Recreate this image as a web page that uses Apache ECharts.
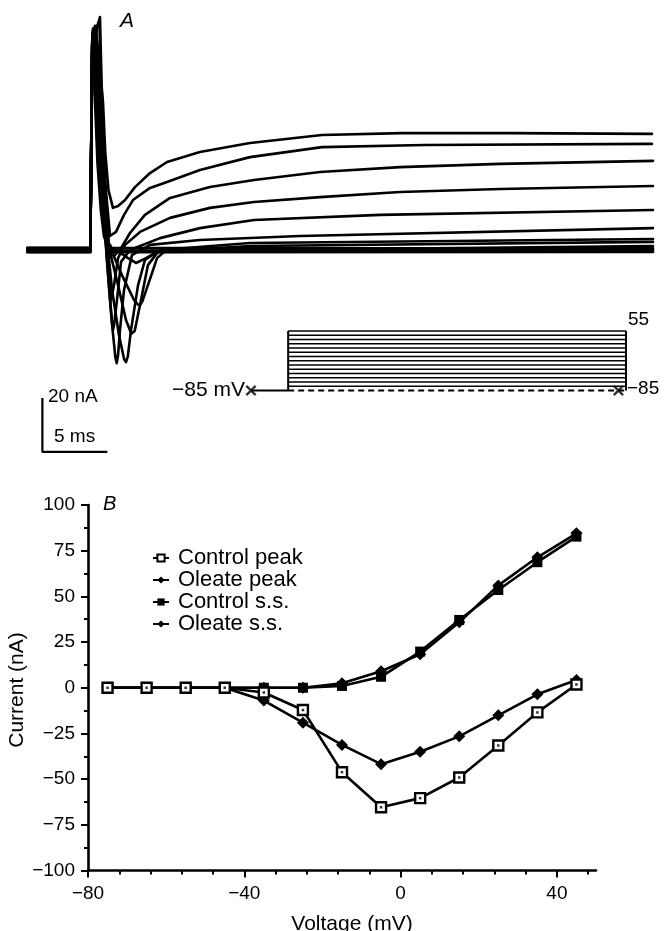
<!DOCTYPE html>
<html>
<head>
<meta charset="utf-8">
<script src="https://cdn.jsdelivr.net/npm/echarts@6.0.0/dist/echarts.min.js"></script>
<style>
  html, body { margin: 0; padding: 0; background: #fff; }
  #chart { width: 664px; height: 931px; }
</style>
</head>
<body>
<div id="chart"></div>
<script>
// ---------- Panel A: membrane current traces, [time (ms), current (nA)] ----------
const i_p55 = [[-4.9,0.6],[-0.05,0.6],[0.04,50],[0.1,78],[0.3,83],[0.6,72],[0.92,55],[1.1,36],[1.35,22],[1.69,15.6],[2.08,16.3],[2.62,18.5],[3.38,23.3],[4.54,28.5],[5.85,32.6],[8.38,36.3],[12.23,39.6],[17.77,42.6],[23.92,43.3],[32.08,43.3],[43.15,43.0]];
const i_p45 = [[-4.9,0.3],[-0.05,0.3],[0.04,45],[0.1,70],[0.45,82],[0.69,86.3],[0.85,55],[1.0,36],[1.15,22],[1.46,5.2],[1.92,6.7],[2.54,13.0],[3.23,18.5],[4.54,23.0],[5.85,25.2],[8.38,29.6],[12.23,34.4],[17.77,38.1],[25.62,38.9],[43.15,39.3]];
const i_p35 = [[-4.9,-0.3],[-0.05,-0.3],[0.04,50],[0.1,78],[0.15,82],[0.25,72],[0.38,55],[0.6,32],[0.85,15],[1.08,5],[1.31,0.5],[1.77,-2.2],[2.23,0],[3.0,6.3],[4.15,13.0],[6.08,19.3],[9.15,23.3],[12.54,25.9],[17.62,28.9],[23.77,30.7],[31.46,31.9],[43.23,33.0]];
const i_p25 = [[-4.9,0.8],[-0.05,0.8],[0.04,50],[0.1,78],[0.2,81],[0.32,70],[0.46,55],[0.7,33],[0.95,14],[1.15,1],[1.38,-9],[1.54,-18.5],[1.77,-13.0],[2.08,-3.0],[2.62,1.9],[3.77,6.7],[6.08,11.9],[9.15,15.6],[12.54,17.8],[17.62,19.6],[23.77,21.5],[31.46,22.6],[43.23,23.7]];
const i_p15 = [[-4.9,-0.6],[-0.05,-0.6],[0.04,50],[0.1,78],[0.25,81],[0.4,70],[0.54,55],[0.78,33],[1.0,14],[1.2,-2],[1.42,-16],[1.62,-27.5],[1.69,-29.6],[1.78,-27.5],[2.0,-18.5],[2.31,-4.4],[3.0,0],[5.31,4.4],[8.38,8.1],[12.54,11.1],[22.23,13.0],[43.23,14.8]];
const i_p05 = [[-4.9,0],[-0.05,0],[0.04,50],[0.1,78],[0.3,82],[0.47,70],[0.62,55],[0.85,33],[1.05,14],[1.25,-5],[1.46,-18],[1.69,-31],[1.88,-40],[1.98,-41.9],[2.08,-39],[2.23,-29.6],[2.54,-14.8],[3.15,-1.9],[4.54,1.9],[8.38,3.7],[16.08,5.2],[43.23,8.1]];
const i_m05 = [[-4.9,0.4],[-0.05,0.4],[0.04,45],[0.1,72],[0.4,82],[0.65,85],[0.77,55],[0.95,32],[1.1,16],[1.31,0],[1.62,-14.8],[2.15,-31.5],[2.55,-40.5],[2.69,-41.5],[2.83,-39.5],[3.08,-29.6],[3.62,-13.0],[4.15,-3.7],[5.31,0],[12.23,2.6],[43.23,4.1]];
const i_m15 = [[-4.9,-0.8],[-0.05,-0.8],[0.04,50],[0.1,78],[0.14,81],[0.22,70],[0.31,55],[0.5,32],[0.75,15],[1.0,5],[1.46,-0.7],[2.08,-13.0],[2.69,-25.9],[3.1,-31],[3.23,-31.5],[3.36,-30],[3.77,-20.4],[4.38,-5.6],[5.15,-0.7],[12.23,1.5],[43.23,3.0]];
const i_m25 = [[-4.9,0.2],[-0.05,0.2],[0.04,50],[0.1,78],[0.18,81],[0.3,70],[0.42,55],[0.65,32],[0.9,14],[1.2,3],[1.62,-0.7],[2.38,-9.3],[3.31,-18.5],[3.6,-20.2],[3.77,-20.4],[3.95,-19],[4.38,-13.0],[5.08,-3.0],[5.69,-0.4],[43.23,1.5]];
const i_m35 = [[-4.9,-0.4],[-0.05,-0.4],[0.04,50],[0.1,78],[0.2,82],[0.36,70],[0.5,55],[0.74,32],[1.0,14],[1.3,3],[1.6,0.5],[2.08,-0.4],[2.85,-3.0],[3.46,-4.8],[4.23,-3.0],[5.08,-0.7],[43.23,0.7]];
const i_m45 = [[-4.9,0.7],[-0.05,0.7],[0.04,50],[0.1,78],[0.25,82],[0.42,70],[0.58,55],[0.82,32],[1.05,14],[1.3,3],[1.6,0.8],[43.23,0.4]];
const i_m55 = [[-4.9,-0.2],[-0.05,-0.2],[0.04,50],[0.1,78],[0.3,81.5],[0.5,70],[0.65,55],[0.88,32],[1.1,14],[1.35,2],[1.7,-0.2],[43.23,0]];
const i_m65 = [[-4.9,0.5],[-0.05,0.5],[0.04,50],[0.1,78],[0.35,82],[0.54,70],[0.69,55],[0.92,32],[1.13,14],[1.38,1],[1.75,-0.5],[43.23,-0.4]];
const i_m75 = [[-4.9,-0.7],[-0.05,-0.7],[0.04,50],[0.1,78],[0.38,82],[0.58,70],[0.73,55],[0.96,32],[1.17,14],[1.4,0],[1.8,-0.8],[43.23,-0.7]];
const traces = [i_p55, i_p45, i_p35, i_p25, i_p15, i_p05, i_m05, i_m15, i_m25, i_m35, i_m45, i_m55, i_m65, i_m75];

// scale bar (20 nA, 5 ms) anchored at its corner
const barCorner = [-3.74, -74.8];
const barCurrent = 20;
const barTime = 5;

// ---------- Voltage protocol (schematic time, mV) ----------
const holdingV = -85;
const stepLevels = [-75, -65, -55, -45, -35, -25, -15, -5, 5, 15, 25, 35, 45, 55];
const protoStart = -4.4, stepOn = 0, stepOff = 40;
const crossMarks = [[-4.4, -85], [39.1, -85]];

// ---------- Panel B: current-voltage relations ----------
const voltages    = [-75, -65, -55, -45, -35, -25, -15, -5, 5, 15, 25, 35, 45];
const controlPeak = [0, 0, 0, 0, -2.6, -12.2, -46.2, -65.4, -60.4, -49.1, -31.6, -13.5, 1.8];
const oleatePeak  = [0, 0, 0, 0, -7.0, -19.1, -31.3, -41.8, -35.0, -26.6, -15.1, -3.6, 4.2];
const controlSS   = [0, 0, 0, 0, 0, 0, 1.0, 6.0, 19.8, 37.1, 53.5, 68.7, 82.7];
const oleateSS    = [0, 0, 0, 0, 0, 0, 2.5, 9.0, 18.3, 35.8, 56.0, 71.4, 84.5];
// voltage axis: range of the line, labelled ticks, minor ticks
const vAxisMin = -80, vAxisMax = 50;
const vMajorStep = 40, vMajorLast = 40;
const vMinorStep = 8, vMinorLast = 48;

const FONT = '"Liberation Sans", Arial, Helvetica, sans-serif';
const INK = '#000';
const minus = v => String(v).replace('-', '\u2212');
const pairs = ys => voltages.map((v, i) => [v, ys[i]]);

const chart = echarts.init(document.getElementById('chart'), null, { renderer: 'canvas' });

const hiddenAxis = (gi, min, max) => ({
  type: 'value', gridIndex: gi, min, max,
  show: false, splitLine: { show: false }
});

const series = [];

// traces
traces.forEach(tr => {
  series.push({
    type: 'line', xAxisIndex: 0, yAxisIndex: 0, data: tr,
    showSymbol: false, symbol: 'none', smooth: false,
    clip: false, silent: true,
    lineStyle: { color: INK, width: 2.6, join: 'round', cap: 'round' }
  });
});

// scale bar
series.push({
  type: 'line', xAxisIndex: 0, yAxisIndex: 0, symbol: 'none', clip: false, silent: true,
  data: [[barCorner[0], barCorner[1] + barCurrent], barCorner, [barCorner[0] + barTime, barCorner[1]]],
  lineStyle: { color: INK, width: 2.2 }
});

// protocol: holding segment
series.push({
  type: 'line', xAxisIndex: 1, yAxisIndex: 1, symbol: 'none', clip: false, silent: true,
  data: [[protoStart, holdingV], [stepOn, holdingV]],
  lineStyle: { color: INK, width: 2.2 }
});
// protocol: step levels
stepLevels.forEach(v => {
  series.push({
    type: 'line', xAxisIndex: 1, yAxisIndex: 1, symbol: 'none', clip: false, silent: true,
    data: [[stepOn, v], [stepOff, v]],
    lineStyle: { color: INK, width: 1.4 }
  });
});
// protocol: step edges
[stepOn, stepOff].forEach(t => {
  series.push({
    type: 'line', xAxisIndex: 1, yAxisIndex: 1, symbol: 'none', clip: false, silent: true,
    data: [[t, holdingV], [t, stepLevels[stepLevels.length - 1]]],
    lineStyle: { color: INK, width: 2 }
  });
});
// protocol: unchanged (-85 mV) sweep, dashed
series.push({
  type: 'line', xAxisIndex: 1, yAxisIndex: 1, symbol: 'none', clip: false, silent: true,
  data: [[stepOn, holdingV], [stepOff, holdingV]],
  lineStyle: { color: INK, width: 2, type: [6, 4] }
});
// protocol: cross marks
series.push({
  type: 'scatter', xAxisIndex: 1, yAxisIndex: 1, clip: false, silent: true,
  data: crossMarks,
  symbol: 'path://M1.5,0 L5,3.5 L8.5,0 L10,1.5 L6.5,5 L10,8.5 L8.5,10 L5,6.5 L1.5,10 L0,8.5 L3.5,5 L0,1.5 Z',
  symbolSize: 11, itemStyle: { color: INK }
});

// I-V curves
const ivLine = { color: INK, width: 2.6 };
series.push({
  name: 'Control peak', type: 'line', xAxisIndex: 2, yAxisIndex: 2, data: pairs(controlPeak),
  symbol: 'rect', symbolSize: 10, showAllSymbol: true,
  itemStyle: { color: '#fff', borderColor: INK, borderWidth: 2.4 }, lineStyle: ivLine, z: 4
});
series.push({
  name: 'Oleate peak', type: 'line', xAxisIndex: 2, yAxisIndex: 2, data: pairs(oleatePeak),
  symbol: 'diamond', symbolSize: 12, showAllSymbol: true,
  itemStyle: { color: INK }, lineStyle: ivLine, z: 3
});
series.push({
  name: 'Control s.s.', type: 'line', xAxisIndex: 2, yAxisIndex: 2, data: pairs(controlSS),
  symbol: 'rect', symbolSize: 10, showAllSymbol: true,
  itemStyle: { color: INK }, lineStyle: ivLine, z: 3
});
series.push({
  name: 'Oleate s.s.', type: 'line', xAxisIndex: 2, yAxisIndex: 2, data: pairs(oleateSS),
  symbol: 'diamond', symbolSize: 12, showAllSymbol: true,
  itemStyle: { color: INK }, lineStyle: ivLine, z: 3
});
// centre dots of the open control-peak squares
series.push({
  type: 'scatter', xAxisIndex: 2, yAxisIndex: 2, data: pairs(controlPeak),
  symbol: 'rect', symbolSize: 2.5, itemStyle: { color: INK }, silent: true, z: 5
});

const axisText = { color: INK, fontFamily: FONT, fontSize: 19 };

// I-V plot area; the tick grids share its left edge and pixel scale
const ivLeft = 88, ivWidth = 508, ivTop = 505, ivBottom = 60.5;
const pxPerMv = ivWidth / (vAxisMax - vAxisMin);
const tickGrid = last => ({ left: ivLeft, width: (last - vAxisMin) * pxPerMv, top: ivTop, bottom: ivBottom });

chart.setOption({
  animation: false,
  backgroundColor: '#fff',
  grid: [
    { left: 26, right: 7.5, top: 7, height: 459 },                      // traces
    { left: 251, width: 375, top: 331, height: 59.5 },                  // protocol
    { left: ivLeft, width: ivWidth, top: ivTop, bottom: ivBottom },     // I-V plot
    tickGrid(vMinorLast),                                               // minor voltage ticks
    tickGrid(vMajorLast)                                                // labelled voltage ticks
  ],
  xAxis: [
    hiddenAxis(0, -5, 43.5),
    hiddenAxis(1, protoStart, stepOff),
    {
      type: 'value', gridIndex: 2, min: vAxisMin, max: vAxisMax, position: 'bottom',
      splitLine: { show: false },
      axisLine: { show: true, onZero: false, lineStyle: { color: INK, width: 2.6 } },
      axisTick: { show: false },
      axisLabel: { show: false }
    },
    {
      type: 'value', gridIndex: 3, min: vAxisMin, max: vMinorLast, interval: vMinorStep, position: 'bottom',
      splitLine: { show: false },
      axisLine: { show: false, onZero: false },
      axisTick: { show: true, length: 4, lineStyle: { color: INK, width: 2 } },
      axisLabel: { show: false }
    },
    {
      type: 'value', gridIndex: 4, min: vAxisMin, max: vMajorLast, interval: vMajorStep, position: 'bottom',
      splitLine: { show: false },
      axisLine: { show: false, onZero: false },
      axisTick: { show: true, length: 7, lineStyle: { color: INK, width: 2 } },
      axisLabel: { ...axisText, margin: 14, formatter: minus }
    }
  ],
  yAxis: [
    hiddenAxis(0, -80, 90),
    hiddenAxis(1, holdingV, 55),
    {
      type: 'value', gridIndex: 2, min: -100, max: 100, interval: 25,
      splitLine: { show: false },
      axisLine: { show: true, onZero: false, lineStyle: { color: INK, width: 2.6 } },
      axisTick: { show: true, length: 7, lineStyle: { color: INK, width: 2 } },
      minorTick: { show: true, splitNumber: 2, length: 4, lineStyle: { color: INK, width: 2 } },
      axisLabel: { ...axisText, margin: 13, formatter: minus }
    },
    hiddenAxis(3, -100, 100),
    hiddenAxis(4, -100, 100)
  ],
  legend: {
    data: ['Control peak', 'Oleate peak', 'Control s.s.', 'Oleate s.s.'],
    orient: 'vertical', left: 147, top: 542,
    itemWidth: 16, itemHeight: 9, itemGap: 0,
    selectedMode: false,
    textStyle: { color: INK, fontFamily: FONT, fontSize: 22, lineHeight: 22, padding: [0, 0, 0, 4] }
  },
  graphic: [
    { type: 'text', left: 120, top: 11, style: { text: 'A', font: 'italic 21px ' + FONT, fill: INK } },
    { type: 'text', left: 103, top: 494, style: { text: 'B', font: 'italic 20px ' + FONT, fill: INK } },
    { type: 'text', x: 48, y: 397, style: { text: '20 nA', font: '19px ' + FONT, fill: INK, verticalAlign: 'middle' } },
    { type: 'text', x: 54, y: 437, style: { text: '5 ms', font: '19px ' + FONT, fill: INK, verticalAlign: 'middle' } },
    { type: 'text', x: 245, y: 390, style: { text: '\u221285 mV', font: '21px ' + FONT, fill: INK, align: 'right', verticalAlign: 'middle' } },
    { type: 'text', x: 628, y: 320, style: { text: '55', font: '19px ' + FONT, fill: INK, verticalAlign: 'middle' } },
    { type: 'text', x: 627, y: 389, style: { text: '\u221285', font: '19px ' + FONT, fill: INK, verticalAlign: 'middle' } },
    { type: 'text', x: 17, y: 690, rotation: Math.PI / 2,
      style: { text: 'Current (nA)', font: '21px ' + FONT, fill: INK, align: 'center', verticalAlign: 'middle' } },
    { type: 'text', x: 352, y: 924,
      style: { text: 'Voltage (mV)', font: '21px ' + FONT, fill: INK, align: 'center', verticalAlign: 'middle' } }
  ],
  series
});
</script>
</body>
</html>
